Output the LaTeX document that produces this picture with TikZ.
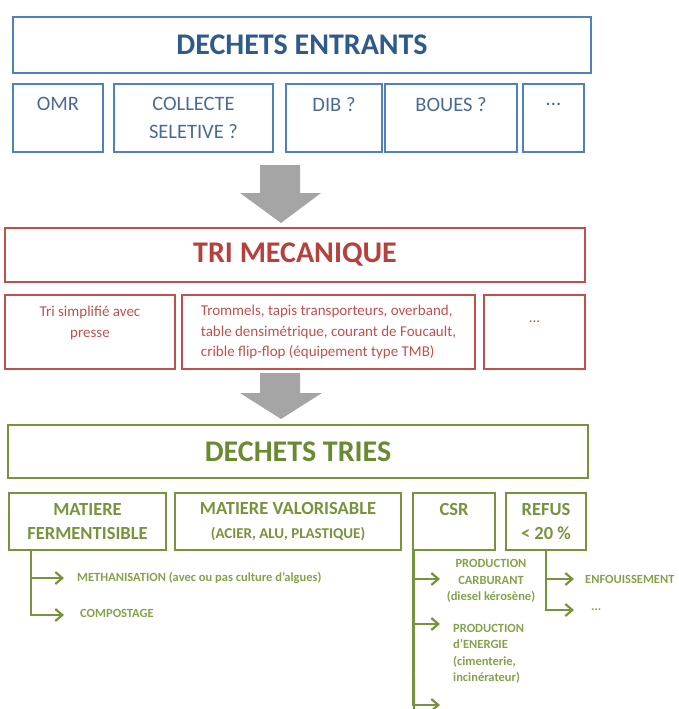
\documentclass[tikz,border=0pt]{standalone}
\usepackage{fontspec}
\setmainfont{Carlito}
\usetikzlibrary{arrows.meta}

\definecolor{bleuCadre}{HTML}{4F81BD}
\definecolor{bleuTitre}{HTML}{2E5A8C}
\definecolor{bleuTexte}{HTML}{4A6A92}
\definecolor{rougeCadre}{HTML}{C0504D}
\definecolor{rougeTitre}{HTML}{B5403C}
\definecolor{vertCadre}{HTML}{77933C}
\definecolor{vertTitre}{HTML}{6A8A32}
\definecolor{vertClair}{HTML}{84A24C}
\definecolor{grisFleche}{HTML}{A5A5A5}

\tikzset{
  box/.style={draw, line width=2pt, inner sep=0pt, align=center},
  bluebox/.style={box, draw=bleuCadre, text=bleuTexte, font=\fontsize{20.5}{28}\selectfont},
  redbox/.style={box, draw=rougeCadre, text=rougeCadre, font=\fontsize{15}{20.5}\selectfont},
  greenbox/.style={box, draw=vertCadre, text=vertCadre, font=\bfseries\fontsize{18.5}{24}\selectfont},
  title/.style={font=\bfseries\fontsize{30}{36}\selectfont},
  bigarrow/.style={fill=grisFleche},
  link/.style={draw=vertCadre, line width=2.2pt, -{Straight Barb[length=7pt,width=12pt]}},
  leaf/.style={text=vertClair, font=\bfseries\fontsize{12.5}{16.5}\selectfont, inner sep=0pt, align=left},
}

\begin{document}
\begin{tikzpicture}[x=1pt, y=-1pt]
  \useasboundingbox (0,0) rectangle (678,709);

  \node[bluebox, title, text=bleuTitre, minimum width=578pt, minimum height=56pt] (entrants) at (302,45) {DECHETS ENTRANTS};
  \node[bluebox, minimum width=90pt, minimum height=68pt] (omr) at (58,118) {OMR\\~};
  \node[bluebox, minimum width=159pt, minimum height=68pt] (collecte) at (193.5,118) {COLLECTE\\SELETIVE ?};
  \node[bluebox, minimum width=96pt, minimum height=68pt] (dib) at (334,118) {DIB ?\\~};
  \node[bluebox, minimum width=132pt, minimum height=68pt] (boues) at (451,118) {BOUES ?\\~};
  \node[bluebox, minimum width=61pt, minimum height=68pt] (autres1) at (553.5,118) {...\\~};

  \fill[bigarrow] (260,165) -- (300,165) -- (300,193) -- (321,193) -- (281,223) -- (240,193) -- (260,193) -- cycle;

  \node[redbox, title, text=rougeTitre, minimum width=580pt, minimum height=54pt] (tri) at (295,255) {TRI MECANIQUE};
  \node[redbox, minimum width=170pt, minimum height=74pt] (simple) at (90,332) {Tri simplifié avec\\presse\\~};
  \node[redbox, align=left, minimum width=293pt, minimum height=74pt] (trommel) at (328.5,332) {Trommels, tapis transporteurs, overband,\\table densimétrique, courant de Foucault,\\crible flip-flop (équipement type TMB)};
  \node[redbox, minimum width=101pt, minimum height=74pt] (autres2) at (534.5,332) {...\\~};

  \fill[bigarrow] (260,373) -- (300,373) -- (300,393) -- (322,393) -- (281,419) -- (240,393) -- (260,393) -- cycle;

  \node[greenbox, title, text=vertTitre, minimum width=580pt, minimum height=53pt] (tries) at (298,451.5) {DECHETS TRIES};
  \node[greenbox, minimum width=157pt, minimum height=57pt] (ferm) at (87.5,521.5) {MATIERE\\FERMENTISIBLE};
  \node[greenbox, minimum width=226pt, minimum height=57pt] (valo) at (288,521.5) {MATIERE VALORISABLE\\{\fontsize{15}{24}\selectfont (ACIER, ALU, PLASTIQUE)}};
  \node[greenbox, minimum width=82pt, minimum height=57pt] (csr) at (454,521.5) {CSR\\~};
  \node[greenbox, minimum width=80pt, minimum height=57pt] (refus) at (546,521.5) {REFUS\\< 20 \%};

  \coordinate (m1) at (64,578);
  \coordinate (m2) at (64,615);
  \coordinate (c1) at (440,579);
  \coordinate (c2) at (440,624);
  \coordinate (c3) at (440,705);
  \coordinate (cbas) at (414,712);
  \coordinate (r1) at (574,579);
  \coordinate (r2) at (574,610);

  \node[leaf, anchor=west] (metha) at (77,578) {METHANISATION (avec ou pas culture d’algues)};
  \node[leaf, anchor=west] (compost) at (80,613) {COMPOSTAGE};
  \node[leaf, align=center] (carbu) at (491,581) {PRODUCTION\\CARBURANT\\(diesel kérosène)};
  \node[leaf, anchor=west] (energie) at (453,654) {PRODUCTION\\d’ENERGIE\\(cimenterie,\\incinérateur)};
  \node[leaf, anchor=west] (enfouis) at (585,579) {ENFOUISSEMENT};
  \node[leaf, anchor=west] (autres3) at (591,610) {...};

  \draw[link] ([xshift=23pt]ferm.south west) |- (m1);
  \draw[link] ([xshift=23pt]ferm.south west) |- (m2);

  \draw[link, -] ([xshift=1.5pt]csr.south west) -- (cbas);
  \draw[link] ([xshift=1.5pt]csr.south west) |- (c1);
  \draw[link] ([xshift=1.5pt]csr.south west) |- (c2);
  \draw[link] ([xshift=1.5pt]csr.south west) |- (c3);

  \draw[link] ([xshift=41pt]refus.south west) |- (r1);
  \draw[link] ([xshift=41pt]refus.south west) |- (r2);
\end{tikzpicture}
\end{document}
